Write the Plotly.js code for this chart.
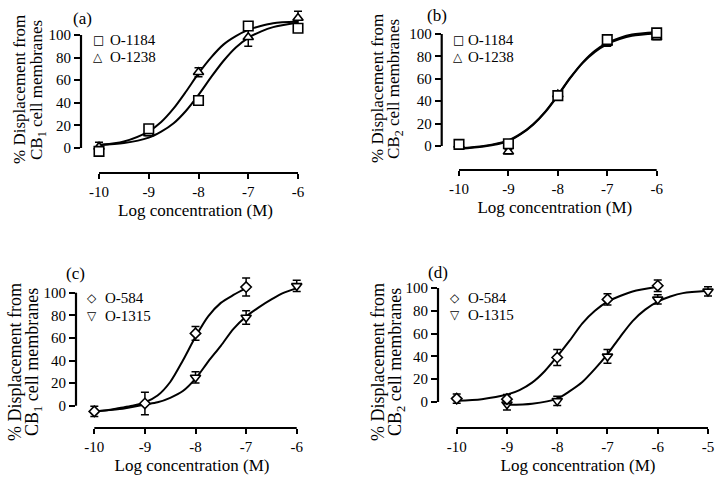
<!DOCTYPE html>
<html>
<head>
<meta charset="utf-8">
<script src="https://cdn.plot.ly/plotly-3.0.1.min.js"></script>
<style>html,body{margin:0;padding:0;background:#fff;}#chart{width:721px;height:480px;}</style>
</head>
<body>
<div id="chart"></div>
<script>
// ---------- tick values / labels ----------
const xTicksABC = [-10, -9, -8, -7, -6];
const xTickTextABC = ['-10', '-9', '-8', '-7', '-6'];
const xTicksD = [-10, -9, -8, -7, -6, -5];
const xTickTextD = ['-10', '-9', '-8', '-7', '-6', '-5'];
const yTicks = [0, 20, 40, 60, 80, 100];
const yTickText = ['0', '20', '40', '60', '80', '100'];

// ---------- panel (a): CB1, O-1184 / O-1238 ----------
const aDoseX = [-10, -9, -8, -7, -6];
const a1184 = [-3, 17, 42, 108, 106];
const a1184Err = [2, 2, 3, 3, 3];
const a1238 = [1, 13, 67, 98, 115];
const a1238Err = [4, 2, 4, 8, 6];
const aCurveX = [-10, -9.5, -9, -8.75, -8.5, -8.25, -8, -7.75, -7.5, -7.25, -7, -6.75, -6.5, -6];
const aCurve1184 = [2.8, 4.4, 9.2, 14.5, 21.9, 33, 47, 62.5, 77, 89, 97.5, 103, 107, 111];
const aCurve1238 = [2.5, 5.7, 14.7, 23, 35, 50, 66, 80, 91.5, 99, 104.5, 108, 110.5, 112];

// ---------- panel (b): CB2, O-1184 / O-1238 ----------
const bDoseX = [-10, -9, -8, -7, -6];
const b1184 = [1.5, 2, 45, 95, 101];
const b1184Err = [3, 3, 3, 3, 3];
const b1238 = [1, -5, 46, 92, 97];
const b1238Err = [2, 2, 3, 3, 2];
const bCurveX = [-10, -9.5, -9, -8.75, -8.5, -8.25, -8, -7.75, -7.5, -7.25, -7, -6.75, -6.5, -6];
const bCurve1184 = [-2, 0, 5, 11, 19.5, 31, 45.5, 61, 74.5, 85, 92, 96.5, 99.5, 101.5];
const bCurve1238 = [-2.5, -0.5, 4.5, 10.5, 19, 30.5, 45, 60.5, 74, 84, 91, 95.5, 98.5, 100.5];

// ---------- panel (c): CB1, O-584 / O-1315 ----------
const c584X = [-10, -9, -8, -7];
const c584 = [-5, 2, 64, 105];
const c584Err = [4.5, 10, 6, 8];
const c1315X = [-8, -7, -6];
const c1315 = [25, 78, 106];
const c1315Err = [5, 6, 5];
const cCurve584X = [-10, -9.75, -9.5, -9.25, -9, -8.75, -8.5, -8.25, -8, -7.75, -7.5, -7.25, -7];
const cCurve584 = [-5, -4, -2, 0, 3, 9, 21, 40, 61, 79, 91, 98, 104];
const cCurve1315X = [-10, -9.5, -9, -8.75, -8.5, -8.25, -8, -7.75, -7.5, -7.25, -7, -6.75, -6.5, -6.25, -6];
const cCurve1315 = [-5, -3, 1, 3, 7, 13, 24, 39, 53, 68, 79, 87, 94, 100, 104];

// ---------- panel (d): CB2, O-584 / O-1315 ----------
const d584X = [-10, -9, -8, -7, -6];
const d584 = [3, 2.5, 39, 90, 102];
const d584Err = [4, 4, 7, 5, 5];
const d1315X = [-9, -8, -7, -6, -5];
const d1315 = [-2, 1, 40, 90, 97];
const d1315Err = [5, 4, 6, 4, 4];
const dCurve584X = [-10, -9.5, -9, -8.75, -8.5, -8.25, -8, -7.75, -7.5, -7.25, -7, -6.75, -6.5, -6];
const dCurve584 = [1, 2.5, 6.5, 10.5, 17, 27, 40, 54, 69, 80, 88, 93, 97, 101];
const dCurve1315X = [-9, -8.5, -8, -7.75, -7.5, -7.25, -7, -6.75, -6.5, -6.25, -6, -5.75, -5.5, -5];
const dCurve1315 = [-2.5, -1.5, 3, 9.5, 17.5, 29, 42, 57, 71, 81, 88, 92.5, 95.5, 97.5];

// ---------- text ----------
const panelLabels = ['(a)', '(b)', '(c)', '(d)'];
const xTitle = 'Log concentration (M)';
const yTitle1 = '% Displacement from';
const yTitle2CB1 = 'CB<sub>1</sub> cell membranes';
const yTitle2CB2 = 'CB<sub>2</sub> cell membranes';

// ---------- helpers ----------
const W = 721, H = 480;
const px = v => v / W;
const py = v => 1 - v / H;
const SERIF = 'Liberation Serif';

function curve(x, y, ax) {
  return {x: x, y: y, xaxis: 'x' + ax, yaxis: 'y' + ax, type: 'scatter', mode: 'lines',
    line: {color: '#000', width: 2, shape: 'spline', smoothing: 0.8}, hoverinfo: 'skip', showlegend: false};
}
function pts(x, y, err, sym, size, name, ax) {
  return {x: x, y: y, name: name, xaxis: 'x' + ax, yaxis: 'y' + ax, type: 'scatter', mode: 'markers',
    cliponaxis: false,
    marker: {symbol: sym, size: size, color: '#fff', line: {color: '#000', width: 1.6}},
    error_y: {type: 'data', array: err, visible: true, color: '#000', thickness: 1.5, width: 4},
    showlegend: false};
}

const traces = [
  curve(aCurveX, aCurve1184, ''), curve(aCurveX, aCurve1238, ''),
  pts(aDoseX, a1238, a1238Err, 'triangle-up', 9, 'O-1238', ''),
  pts(aDoseX, a1184, a1184Err, 'square', 9.5, 'O-1184', ''),
  curve(bCurveX, bCurve1184, '2'), curve(bCurveX, bCurve1238, '2'),
  pts(bDoseX, b1238, b1238Err, 'triangle-up', 9, 'O-1238', '2'),
  pts(bDoseX, b1184, b1184Err, 'square', 9.5, 'O-1184', '2'),
  curve(cCurve584X, cCurve584, '3'), curve(cCurve1315X, cCurve1315, '3'),
  pts(c1315X, c1315, c1315Err, 'triangle-down', 9, 'O-1315', '3'),
  pts(c584X, c584, c584Err, 'diamond', 8, 'O-584', '3'),
  curve(dCurve584X, dCurve584, '4'), curve(dCurve1315X, dCurve1315, '4'),
  pts(d1315X, d1315, d1315Err, 'triangle-down', 9, 'O-1315', '4'),
  pts(d584X, d584, d584Err, 'diamond', 8, 'O-584', '4')
];

// panel geometry (pixels): [left, right, top, bottom], x range, y range
const panels = [
  {dom: [81, 310, 8, 173], xr: [-10.362, -5.759], yr: [-22.1, 123.9], xt: xTicksABC, xtt: xTickTextABC},
  {dom: [441.7, 668, 8, 170], xr: [-10.350, -5.771], yr: [-21.4, 123.2], xt: xTicksABC, xtt: xTickTextABC},
  {dom: [76, 308, 265, 428], xr: [-10.362, -5.777], yr: [-19.7, 124.5], xt: xTicksABC, xtt: xTickTextABC},
  {dom: [438, 718, 262, 428], xr: [-10.372, -4.801], yr: [-22.8, 122.8], xt: xTicksD, xtt: xTickTextD}
];

const layout = {
  width: W, height: H,
  margin: {l: 0, r: 0, t: 0, b: 0},
  paper_bgcolor: '#fff', plot_bgcolor: 'rgba(0,0,0,0)',
  showlegend: false,
  font: {family: SERIF, color: '#000', size: 14},
  shapes: [], annotations: []
};

panels.forEach((p, i) => {
  const s = i === 0 ? '' : String(i + 1);
  layout['xaxis' + s] = {
    domain: [px(p.dom[0]), px(p.dom[1])], range: p.xr, anchor: 'y' + s,
    tickmode: 'array', tickvals: p.xt, ticktext: p.xtt,
    ticks: 'outside', ticklen: 5, tickwidth: 2, tickcolor: '#000',
    showline: false, showgrid: false, zeroline: false, fixedrange: true,
    tickfont: {family: SERIF, size: 15, color: '#000'},
    title: {text: xTitle, font: {family: SERIF, size: 17, color: '#000'}, standoff: 5}
  };
  layout['yaxis' + s] = {
    domain: [py(p.dom[3]), py(p.dom[2])], range: p.yr, anchor: 'x' + s,
    tickmode: 'array', tickvals: yTicks, ticktext: yTickText,
    ticks: 'outside', ticklen: 6, tickwidth: 2, tickcolor: '#000',
    showline: false, showgrid: false, zeroline: false, fixedrange: true,
    tickfont: {family: SERIF, size: 15, color: '#000'}
  };
  const xr = 'x' + s, yr = 'y' + s;
  // offset axis lines spanning only the tick range
  layout.shapes.push({type: 'line', xref: xr + ' domain', yref: yr, x0: 0, x1: 0,
    y0: yTicks[0], y1: yTicks[yTicks.length - 1], line: {color: '#000', width: 2.2}});
  layout.shapes.push({type: 'line', xref: xr, yref: yr + ' domain', x0: p.xt[0], x1: p.xt[p.xt.length - 1],
    y0: 0, y1: 0, line: {color: '#000', width: 2.2}});
});

// panel labels
const labelPos = [[82, 19], [437, 15], [75, 273], [438, 272]];
labelPos.forEach((lp, i) => layout.annotations.push({text: panelLabels[i], xref: 'paper', yref: 'paper',
  x: px(lp[0]), y: py(lp[1]), xanchor: 'center', yanchor: 'middle', showarrow: false,
  font: {family: SERIF, size: 17, color: '#000'}}));

// y titles (two lines each)
const yTitles = [
  {x1: 19, x2: 38, y: 90, t2: yTitle2CB1, fs: 17},
  {x1: 377, x2: 395, y: 89, t2: yTitle2CB2, fs: 17},
  {x1: 15, x2: 33, y: 362, t2: yTitle2CB1, fs: 18},
  {x1: 378, x2: 396, y: 362, t2: yTitle2CB2, fs: 18}
];
yTitles.forEach(t => {
  layout.annotations.push({text: yTitle1, xref: 'paper', yref: 'paper', x: px(t.x1), y: py(t.y),
    xanchor: 'center', yanchor: 'middle', textangle: -90, showarrow: false,
    font: {family: SERIF, size: t.fs, color: '#000'}});
  layout.annotations.push({text: t.t2, xref: 'paper', yref: 'paper', x: px(t.x2), y: py(t.y),
    xanchor: 'center', yanchor: 'middle', textangle: -90, showarrow: false,
    font: {family: SERIF, size: t.fs, color: '#000'}});
});

// legends
const legends = [
  {sx: 98, tx: 108, y1: 40, y2: 57.5, names: ['O-1184', 'O-1238'], syms: ['\u25A1', '\u25B3']},
  {sx: 458, tx: 466, y1: 40, y2: 57.5, names: ['O-1184', 'O-1238'], syms: ['\u25A1', '\u25B3']},
  {sx: 92.3, tx: 102.5, y1: 298, y2: 315.5, names: ['O-584', 'O-1315'], syms: ['\u25C7', '\u25BD']},
  {sx: 455.3, tx: 466, y1: 297.5, y2: 315, names: ['O-584', 'O-1315'], syms: ['\u25C7', '\u25BD']}
];
legends.forEach(lg => {
  [lg.y1, lg.y2].forEach((yy, k) => {
    layout.annotations.push({text: lg.syms[k], xref: 'paper', yref: 'paper', x: px(lg.sx), y: py(yy),
      xanchor: 'center', yanchor: 'middle', showarrow: false,
      font: {family: 'DejaVu Sans', size: 12, color: '#000'}});
    layout.annotations.push({text: lg.names[k], xref: 'paper', yref: 'paper', x: px(lg.tx), y: py(yy),
      xanchor: 'left', yanchor: 'middle', showarrow: false,
      font: {family: SERIF, size: 15, color: '#000'}});
  });
});

Plotly.newPlot('chart', traces, layout, {staticPlot: true, displayModeBar: false});
</script>
</body>
</html>
